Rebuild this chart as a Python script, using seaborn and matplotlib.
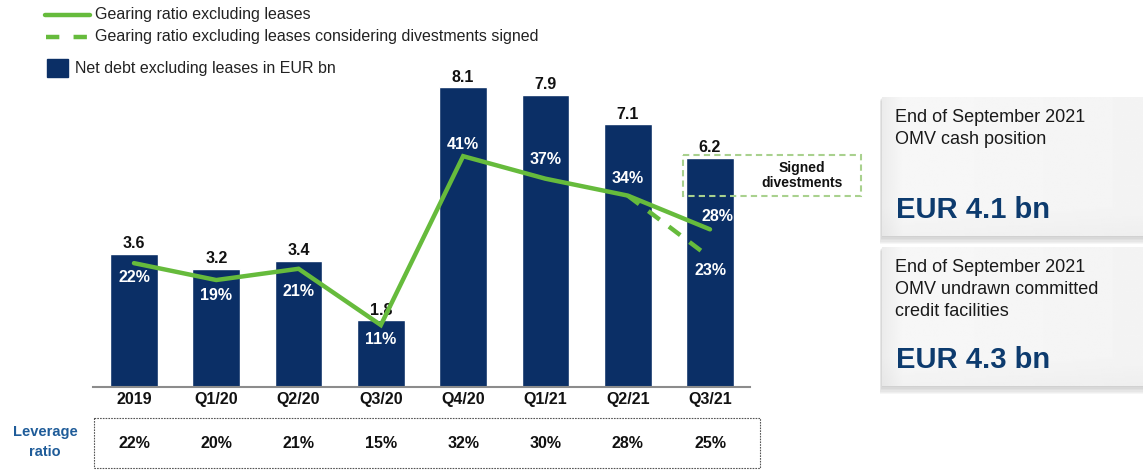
import numpy as np
import pandas as pd
import matplotlib
matplotlib.use("Agg")
import matplotlib.pyplot as plt
from matplotlib.patches import Rectangle
from matplotlib.lines import Line2D
from matplotlib.transforms import blended_transform_factory
import seaborn as sns

# ---- data ----
periods = ["2019", "Q1/20", "Q2/20", "Q3/20", "Q4/20", "Q1/21", "Q2/21", "Q3/21"]
net_debt = [3.6, 3.2, 3.4, 1.8, 8.1, 7.9, 7.1, 6.2]              # EUR bn
gearing = [22, 19, 21, 11, 41, 37, 34, 28]                       # %
gearing_divest_periods = ["Q2/21", "Q3/21"]
gearing_divest = [34, 23]                                        # %
leverage = [22, 20, 21, 15, 32, 30, 28, 25]                      # %
cash_position = 4.1
undrawn_facilities = 4.3

# ---- style ----
NAVY = "#0B2F66"
GREEN = "#66BB3C"
LIGHT_GREEN = "#A9D18E"
MID_BLUE = "#1F5C99"
PANEL_BLUE = "#0D3B6E"

sns.set_style("white")
plt.rcParams["font.family"] = ["Liberation Sans", "DejaVu Sans"]

W, H = 1143, 471
fig = plt.figure(figsize=(W / 100, H / 100), dpi=100)

# main chart area (pixel layout converted to figure fractions)
left, right, base, top = 93, 750, 387, 40
ax = fig.add_axes([left / W, (H - base) / H, (right - left) / W, (base - top) / H])
ax.patch.set_alpha(0)

df = pd.DataFrame({"period": periods, "net_debt": net_debt})
sns.barplot(data=df, x="period", y="net_debt", color=NAVY, saturation=1,
            width=0.58, ax=ax)
ax.set_xlim(-0.498, 7.486)
ax.set_ylim(0, (base - top) / 37.0)
ax.bar_label(ax.containers[0], labels=[f"{v:.1f}" for v in net_debt],
             padding=2, fontsize=11.5, fontweight="bold", color="#111111")
ax.set_xlabel("")
ax.set_ylabel("")
ax.set_yticks([])
ax.tick_params(axis="x", length=0, pad=3.5)
for lbl in ax.get_xticklabels():
    lbl.set_fontweight("bold")
    lbl.set_fontsize(11.5)
    lbl.set_color("#111111")
for s in ["top", "right", "left"]:
    ax.spines[s].set_visible(False)
ax.spines["bottom"].set_color("#8C8C8C")
ax.spines["bottom"].set_linewidth(1.5)

# gearing ratio lines on a secondary scale
ax2 = ax.twinx()
ax2.patch.set_alpha(0)
xpos = {p: i for i, p in enumerate(periods)}
sns.lineplot(x=np.arange(len(periods)), y=gearing, ax=ax2, color=GREEN,
             linewidth=3.2, solid_joinstyle="miter", zorder=5)
sns.lineplot(x=[xpos[p] for p in gearing_divest_periods], y=gearing_divest,
             ax=ax2, color=GREEN, linewidth=3.2, zorder=5,
             linestyle=(0, (3.2, 2.6)))
ax2.set_ylim(0, (base - top) / 5.63)
ax2.set_xlim(ax.get_xlim())
ax2.set_yticks([])
ax2.set_ylabel("")
for s in ax2.spines.values():
    s.set_visible(False)

# percentage labels (offsets in pixels)
pct_offsets = [(0, -14), (0, -15), (0, -23), (0, -14),
               (0, 12), (0, 19), (0, 17), (7, 13)]
for i, (v, (dx, dy)) in enumerate(zip(gearing, pct_offsets)):
    ax2.annotate(f"{v}%", (i, v), xytext=(dx, dy), textcoords="offset pixels",
                 ha="center", va="center", color="white", fontsize=11.5,
                 fontweight="bold", zorder=6)
ax2.annotate(f"{gearing_divest[-1]}%",
             (xpos[gearing_divest_periods[-1]], gearing_divest[-1]),
             xytext=(0, -13), textcoords="offset pixels", ha="center",
             va="center", color="white", fontsize=11.5, fontweight="bold",
             zorder=6)

# overlay in pixel coordinates for legend, table and side panels
ov = fig.add_axes([0, 0, 1, 1])
ov.set_xlim(0, W)
ov.set_ylim(H, 0)
ov.axis("off")
ov.patch.set_alpha(0)
ov.set_zorder(5)

# legend
ov.add_line(Line2D([45, 90], [15, 15], color=GREEN, lw=3.2))
ov.add_line(Line2D([46, 89], [37, 37], color=GREEN, lw=3.2,
                   linestyle=(0, (3.0, 3.2))))
ov.add_patch(Rectangle((47, 59), 21, 18, color=NAVY))
legend_txt = dict(fontsize=11.5, color="#222222", va="center", ha="left")
ov.text(95, 15, "Gearing ratio excluding leases", **legend_txt)
ov.text(95, 37, "Gearing ratio excluding leases considering divestments signed",
        **legend_txt)
ov.text(75, 68, "Net debt excluding leases in EUR bn", **legend_txt)

# signed divestments box
ov.add_patch(Rectangle((683, 155), 178, 41, fill=False, edgecolor=LIGHT_GREEN,
                       lw=1.5, linestyle=(0, (3, 2))))
ov.text(802, 175.5, "Signed\ndivestments", ha="center", va="center",
        fontsize=10, fontweight="bold", color="#111111", linespacing=1.05)

# leverage ratio row
ov.add_patch(Rectangle((94, 418), 666, 50, fill=False, edgecolor="#555555",
                       lw=0.8, linestyle=(0, (1.5, 1))))
ov.text(45, 432, "Leverage", ha="center", va="center", fontsize=10.5,
        fontweight="bold", color=MID_BLUE)
ov.text(45, 452, "ratio", ha="center", va="center", fontsize=10.5,
        fontweight="bold", color=MID_BLUE)
row_tr = blended_transform_factory(ax.transData, ov.transData)
for i, v in enumerate(leverage):
    ov.text(i, 444, f"{v}%", transform=row_tr, ha="center", va="center",
            fontsize=11.5, fontweight="bold", color="#111111")

# side panels with a soft drop shadow
def panel(y0, y1, lines, value):
    for k in range(1, 7):
        ov.add_patch(Rectangle((882 - k * 0.4, y0 + k * 0.6), 280, y1 - y0 + k * 0.8,
                               color="#707070", alpha=0.06, lw=0, zorder=1))
    xs = np.linspace(0, 1, 260)
    shade = np.where(xs < 0.08, 0.925 + 0.045 * xs / 0.08, 0.97 - 0.015 * xs)
    ys = np.linspace(0, 1, 80)[:, None]
    img = shade[None, :] - 0.02 * np.clip((ys - 0.8) / 0.2, 0, 1)
    ov.imshow(img, cmap="gray", vmin=0, vmax=1, aspect="auto",
              extent=(882, 1150, y1, y0), zorder=2)
    for k, t in enumerate(lines):
        ov.text(895, y0 + 20 + 22 * k, t, ha="left", va="center",
                fontsize=13, color="#1A1A1A", zorder=3)
    ov.text(896, y1 - 26, f"EUR {value} bn", ha="left", va="center",
            fontsize=21, fontweight="bold", color=PANEL_BLUE, zorder=3)

panel(97, 236, ["End of September 2021", "OMV cash position"], cash_position)
panel(247, 386, ["End of September 2021", "OMV undrawn committed",
                 "credit facilities"], undrawn_facilities)
ov.set_xlim(0, W)
ov.set_ylim(H, 0)

fig.savefig("out.png", dpi=100)
